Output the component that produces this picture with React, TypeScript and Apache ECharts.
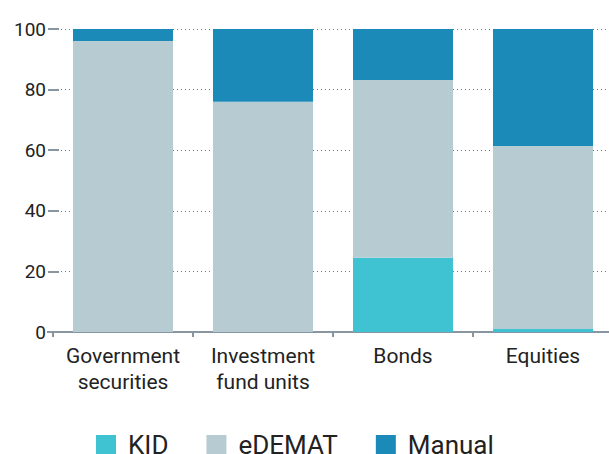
import React, { useEffect, useRef } from "react";
import * as echarts from "echarts";

const categories = ["Government\nsecurities", "Investment\nfund units", "Bonds", "Equities"];
const kid = [0, 0, 24.5, 1];
const edemat = [96, 76, 58.7, 60.4];
const manual = [4, 24, 16.8, 38.6];
const yTicks = { min: 0, max: 100, interval: 20 };

const FONT = "Roboto";

export default function App() {
  const ref = useRef<HTMLDivElement>(null);
  useEffect(() => {
    document.body.style.margin = "0";
    const chart = echarts.init(ref.current!, null, { renderer: "svg" });
    const mk = (name: string, data: number[], color: string) => ({
      name,
      type: "bar",
      stack: "total",
      data,
      barWidth: 100,
      itemStyle: { color },
      emphasis: { disabled: true },
    });
    chart.setOption({
      animation: false,
      textStyle: { fontFamily: FONT },
      grid: { left: 53, top: 29, width: 560, height: 303, outerBoundsMode: "none", containLabel: false },
      legend: {
        left: 96,
        top: 432,
        padding: 0,
        itemWidth: 20,
        itemHeight: 20,
        itemGap: 38,
        icon: "rect",
        textStyle: { fontSize: 26, color: "#222", fontFamily: FONT, padding: [0, 0, 0, 7] },
        data: ["KID", "eDEMAT", "Manual"],
      },
      xAxis: {
        type: "category",
        data: categories,
        axisLine: { show: true, lineStyle: { color: "#8796a0", width: 2 } },
        axisTick: { show: true, length: 5, alignWithLabel: false, lineStyle: { color: "#8796a0", width: 2 } },
        axisLabel: { interval: 0, fontSize: 21, color: "#222", margin: 11, lineHeight: 26, fontFamily: FONT },
      },
      yAxis: {
        type: "value",
        min: yTicks.min,
        max: yTicks.max,
        interval: yTicks.interval,
        offset: -6,
        axisLine: { show: false },
        axisTick: { show: true, length: 11, lineStyle: { color: "#8796a0", width: 2 } },
        axisLabel: { fontSize: 19, color: "#222", margin: 13, padding: [0, 0, 6, 0], fontFamily: FONT },
        splitLine: { show: true, lineStyle: { color: "#777", width: 1, type: [1, 3] } },
      },
      graphic: [
        { type: "line", shape: { x1: 47, y1: 332, x2: 54, y2: 332 }, style: { stroke: "#8796a0", lineWidth: 2 } },
      ],
      series: [
        mk("KID", kid, "#3fc2d2"),
        mk("eDEMAT", edemat, "#b7cbd3"),
        mk("Manual", manual, "#1b8ab9"),
      ],
    });
    return () => chart.dispose();
  }, []);
  return <div ref={ref} style={{ width: 609, height: 454 }} />;
}
